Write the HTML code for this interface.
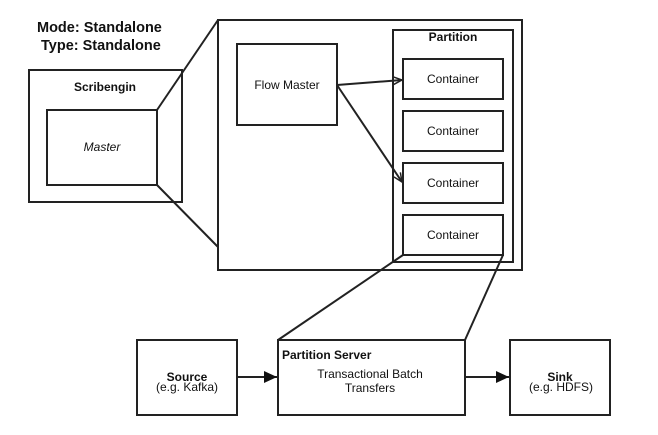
<!DOCTYPE html>
<html><head><style>body{margin:0;background:#fff}svg{display:block}</style></head><body>
<svg width="658" height="435" xmlns="http://www.w3.org/2000/svg" font-family="Liberation Sans, sans-serif" font-size="12">
<defs>
<marker id="a" markerWidth="10" markerHeight="10" refX="9" refY="5" orient="auto" markerUnits="userSpaceOnUse"><path d="M0,1 L9,5 L0,9" fill="none" stroke="#222" stroke-width="1.5"/></marker>
<marker id="b" markerWidth="14" markerHeight="14" refX="13" refY="7" orient="auto" markerUnits="userSpaceOnUse"><path d="M0,1 L13,7 L0,13 Z" fill="#111"/></marker>
</defs>
<g fill="none" stroke="#222" stroke-width="2">
<rect x="29" y="70" width="153" height="132"/>
<rect x="47" y="110" width="110" height="75"/>
<rect x="218" y="20" width="304" height="250"/>
<rect x="237" y="44" width="100" height="81"/>
<rect x="393" y="30" width="120" height="232"/>
<rect x="403" y="59" width="100" height="40"/>
<rect x="403" y="111" width="100" height="40"/>
<rect x="403" y="163" width="100" height="40"/>
<rect x="403" y="215" width="100" height="40"/>
<rect x="137" y="340" width="100" height="75"/>
<rect x="278" y="340" width="187" height="75"/>
<rect x="510" y="340" width="100" height="75"/>
<line x1="157" y1="110" x2="218" y2="20"/>
<line x1="157" y1="185" x2="218" y2="247"/>
<line x1="403" y1="255" x2="278" y2="340"/>
<line x1="503" y1="255" x2="465" y2="340"/>
<line x1="337" y1="85" x2="402" y2="80" marker-end="url(#a)"/>
<line x1="337" y1="85" x2="402" y2="182" marker-end="url(#a)"/>
<line x1="237" y1="377" x2="277" y2="377" marker-end="url(#b)"/>
<line x1="465" y1="377" x2="509" y2="377" marker-end="url(#b)"/>
</g>
<g fill="#111">
<text x="37" y="32" font-weight="bold" font-size="14.5">Mode: Standalone</text>
<text x="41" y="50" font-weight="bold" font-size="14.5">Type: Standalone</text>
<text x="105" y="91" font-weight="bold" text-anchor="middle">Scribengin</text>
<text x="102" y="151" font-style="italic" text-anchor="middle">Master</text>
<text x="287" y="89" text-anchor="middle">Flow Master</text>
<text x="453" y="41" font-weight="bold" text-anchor="middle">Partition</text>
<text x="453" y="83" text-anchor="middle">Container</text>
<text x="453" y="135" text-anchor="middle">Container</text>
<text x="453" y="187" text-anchor="middle">Container</text>
<text x="453" y="239" text-anchor="middle">Container</text>
<text x="187" y="381" font-weight="bold" text-anchor="middle">Source</text>
<text x="187" y="391" text-anchor="middle">(e.g. Kafka)</text>
<text x="282" y="359" font-weight="bold">Partition Server</text>
<text x="370" y="378" text-anchor="middle">Transactional Batch</text>
<text x="370" y="392" text-anchor="middle">Transfers</text>
<text x="560" y="381" font-weight="bold" text-anchor="middle">Sink</text>
<text x="561" y="391" text-anchor="middle">(e.g. HDFS)</text>
</g>
</svg>
</body></html>
